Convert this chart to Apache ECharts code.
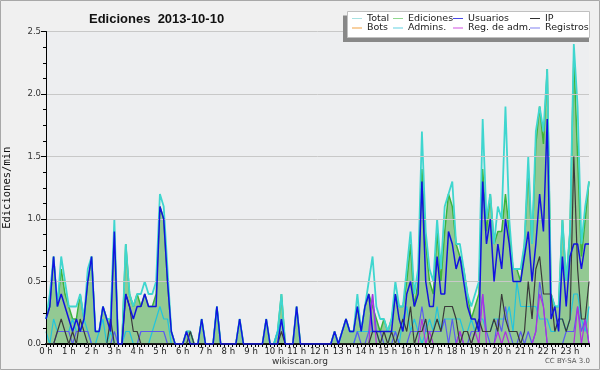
<!DOCTYPE html>
<html><head><meta charset="utf-8">
<script src="https://cdn.jsdelivr.net/npm/echarts@6/dist/echarts.min.js"></script>
<style>html,body{margin:0;padding:0;background:#f0f0f0}#c{width:600px;height:370px}</style>
</head><body><div id="c"></div>
<script>
const hourLabels = ['0 h','1 h','2 h','3 h','4 h','5 h','6 h','7 h','8 h','9 h','10 h','11 h','12 h','13 h','14 h','15 h','16 h','17 h','18 h','19 h','20 h','21 h','22 h','23 h'];
const yLabels = ['0.0','0.5','1.0','1.5','2.0','2.5'];
// one value per 10 minutes (edits per minute)
const total = [
0.2,0.4,0.7,0.3,0.7,0.5, 0.3,0.3,0.3,0.4,0.2,0.6, 0.7,0.1,0.1,0.3,0.2,0.2, 1.0,0,0,0.8,0.4,0.3,
0.4,0.4,0.5,0.4,0.4,0.5, 1.2,1.1,0.6,0.1,0,0, 0,0.1,0.1,0,0,0.2, 0,0,0,0.3,0,0,
0,0,0,0.2,0,0, 0,0,0,0,0.2,0, 0,0.1,0.4,0,0,0, 0.3,0,0,0,0,0,
0,0,0,0,0.1,0, 0.1,0.2,0.1,0.1,0.4,0.1, 0.3,0.5,0.7,0.3,0.2,0.2, 0.1,0.2,0.5,0.3,0.3,0.6,
0.9,0.4,0.6,1.7,0.9,0.6, 0.5,1.0,0.6,1.1,1.2,1.3, 0.8,0.8,0.6,0.4,0.3,0.4, 0.5,1.8,1.0,1.2,0.8,1.1,
1.0,1.9,1.0,0.6,0.6,0.6, 0.8,1.5,0.8,1.7,1.9,1.7, 2.2,0.4,0.3,0.3,1.0,0.5, 0.9,2.4,1.9,0.8,1.1,1.3];
const ediciones = [
0.2,0.3,0.7,0.3,0.6,0.4, 0.3,0.2,0.2,0.4,0.2,0.5, 0.7,0.1,0.1,0.3,0.2,0.2, 0.9,0,0,0.8,0.4,0.3,
0.4,0.3,0.4,0.3,0.3,0.4, 1.1,1.0,0.5,0.1,0,0, 0,0.1,0.1,0,0,0.2, 0,0,0,0.3,0,0,
0,0,0,0.2,0,0, 0,0,0,0,0.2,0, 0,0.1,0.4,0,0,0, 0.3,0,0,0,0,0,
0,0,0,0,0.1,0, 0.1,0.2,0.1,0.1,0.3,0.1, 0.3,0.4,0.3,0.2,0.1,0.2, 0.1,0.2,0.4,0.3,0.3,0.5,
0.8,0.3,0.5,1.4,0.8,0.5, 0.4,0.9,0.5,0.9,1.2,1.1, 0.8,0.7,0.6,0.4,0.2,0.3, 0.4,1.4,0.9,1.2,0.8,0.9,
0.9,1.2,0.9,0.6,0.6,0.5, 0.8,1.4,0.8,1.6,1.9,1.6, 2.2,0.4,0.3,0.3,1.0,0.5, 0.9,2.3,1.5,0.7,1.0,1.3];
const usuarios = [
0.2,0.3,0.7,0.3,0.4,0.3, 0.2,0.1,0.2,0.1,0.2,0.5, 0.7,0.1,0.1,0.3,0.2,0.1, 0.9,0,0,0.4,0.3,0.2,
0.3,0.3,0.4,0.3,0.3,0.3, 1.1,1.0,0.5,0.1,0,0, 0,0.1,0,0,0,0.2, 0,0,0,0.3,0,0,
0,0,0,0.2,0,0, 0,0,0,0,0.2,0, 0,0,0.2,0,0,0, 0.3,0,0,0,0,0,
0,0,0,0,0.1,0, 0.1,0.2,0.1,0.1,0.3,0.1, 0.3,0.4,0.1,0.1,0.1,0.1, 0.1,0.1,0.4,0.2,0.1,0.4,
0.5,0.3,0.4,1.3,0.5,0.3, 0.3,0.7,0.4,0.4,0.9,0.8, 0.6,0.7,0.5,0.3,0.2,0.2, 0.1,1.3,0.8,1.0,0.5,0.8,
0.6,1.0,0.8,0.5,0.5,0.5, 0.7,0.9,0.5,0.8,1.2,0.9, 1.8,0.2,0.3,0.1,0.7,0.3, 0.7,0.8,0.8,0.6,0.8,0.8];
const ip = [
0,0,0,0.1,0.2,0.1, 0,0.1,0,0.2,0.1,0, 0,0,0,0,0,0.2, 0,0,0,0.4,0.3,0.1,
0.1,0,0,0,0,0, 0,0,0,0,0,0, 0,0,0.1,0,0,0, 0,0,0,0,0,0,
0,0,0,0,0,0, 0,0,0,0,0,0, 0,0,0.1,0,0,0, 0,0,0,0,0,0,
0,0,0,0,0,0, 0,0,0,0,0,0, 0,0,0.1,0.1,0,0.1, 0,0.1,0,0.1,0.2,0.1,
0.3,0,0.1,0.1,0.2,0, 0.1,0.2,0.1,0.3,0.3,0.3, 0.2,0,0.1,0.1,0,0.1, 0.2,0.1,0.1,0.1,0.2,0.1,
0.4,0.2,0.1,0.1,0.1,0, 0.1,0.5,0.2,0.6,0.7,0.4, 0.4,0.4,0.1,0.2,0.2,0.1, 0.2,1.5,0.6,0.2,0.2,0.5];
const bots = new Array(144).fill(0);
const admins = [
0.1,0,0.2,0.1,0.1,0.1, 0.1,0.2,0.1,0.1,0.2,0.1, 0,0,0.1,0.2,0,0.1, 0,0,0,0.1,0.1,0,
0,0,0,0,0.1,0.2, 0.3,0.2,0.2,0,0,0, 0,0,0,0,0,0, 0,0,0,0.3,0,0,
0,0,0,0,0,0, 0,0,0,0,0,0, 0,0.1,0.2,0,0,0, 0,0,0,0,0,0,
0,0,0,0,0,0, 0,0,0,0,0.1,0.1, 0.1,0.1,0.1,0.1,0,0, 0,0.1,0.1,0,0.2,0.3,
0.1,0.2,0.1,0,0.1,0.2, 0.1,0.3,0.1,0.2,0.2,0.2, 0.2,0.2,0.1,0.1,0.2,0.1, 0.2,0.2,0.1,0.1,0.2,0.2,
0.2,0.2,0.3,0.1,0.5,0.3, 0.3,0.3,0.3,0.3,0.2,0.2, 0.2,0.1,0.1,0.2,0.2,0.1, 0.2,0.4,0.4,0.2,0.1,0.3];
const regAdm = [
0,0,0,0,0,0, 0,0,0,0,0,0, 0,0,0,0,0,0, 0,0,0,0,0,0,
0,0,0,0,0,0, 0,0,0,0,0,0, 0,0,0,0,0,0, 0,0,0,0,0,0,
0,0,0,0,0,0, 0,0,0,0,0,0, 0,0,0,0,0,0, 0,0,0,0,0,0,
0,0,0,0,0,0, 0,0,0,0,0,0, 0,0,0.4,0,0,0, 0,0,0,0,0,0,
0,0,0,0.2,0,0.1, 0,0,0,0,0,0, 0,0.1,0,0,0,0.1, 0,0.4,0,0,0,0.1,
0,0.1,0,0,0,0, 0,0,0,0.1,0.4,0.3, 0,0,0,0,0,0, 0,0,0.3,0,0.2,0];
const registros = [
0,0,0,0.1,0.1,0.1, 0.1,0,0.1,0.1,0.1,0.1, 0,0,0,0,0,0, 0.1,0,0,0,0,0,
0,0.1,0.1,0.1,0.1,0.1, 0.1,0.1,0,0,0,0, 0,0,0,0,0,0, 0,0,0,0,0,0,
0,0,0,0,0,0, 0,0,0,0,0,0, 0,0,0,0,0,0, 0,0,0,0,0,0,
0,0,0,0,0,0, 0,0,0,0,0.1,0, 0,0.1,0.4,0.1,0.1,0, 0,0,0.1,0,0,0,
0.1,0.1,0.1,0.3,0.1,0.1, 0.1,0.1,0.1,0.2,0,0.2, 0,0.1,0,0,0.1,0.1, 0.1,0.4,0.1,0,0,0.2,
0.1,0.3,0.1,0,0,0.1, 0,0.1,0,0.1,0.5,0.3, 0,0,0,0,0,0.1, 0.1,0.1,0.3,0.1,0.2,0];

const pts = arr => arr.map((v, i) => [i, v]);
const chart = echarts.init(document.getElementById('c'));

const legendDefs = [
  ['Total', '#a8e2e2', 352, 13.5], ['Ediciones', '#90d890', 393, 13.5], ['Usuarios', '#4848e8', 453, 13.5], ['IP', '#303030', 530, 13.5],
  ['Bots', '#f0a040', 352, 23], ['Admins.', '#60d0e0', 393, 23], ['Reg. de adm.', '#d050e0', 453, 23], ['Registros', '#8080f0', 530, 23]
];
const legends = legendDefs.map(d => ({
  left: d[2], top: d[3], padding: 0, selectedMode: false, itemWidth: 10, itemHeight: 1, itemGap: 0,
  textStyle: { fontFamily: 'DejaVu Sans', fontSize: 9.5, color: '#222', padding: [0,0,0,0] },
  data: [{ name: d[0], icon: 'rect', itemStyle: { color: d[1] } }], z: 20
}));

function line(name, data, color, width, z) {
  return { name, type: 'line', data: pts(data), symbol: 'none', z,
    lineStyle: { color, width }, itemStyle: { color }, emphasis: { disabled: true }, animation: false };
}
const edSeries = line('Ediciones', ediciones, '#3cb43c', 1.5, 2);
edSeries.areaStyle = { color: '#93c993', opacity: 1 };

chart.setOption({
  animation: false,
  backgroundColor: '#f0f0f0',
  title: { text: 'Ediciones  2013-10-10', left: 84, top: 8,
    textStyle: { fontFamily: 'Liberation Sans', fontWeight: 'bold', fontSize: 13, color: '#111' } },
  legend: legends,
  grid: { left: 46, right: 11, top: 31.5, bottom: 26, outerBoundsMode: 'none', containLabel: false,
    show: true, backgroundColor: '#edeef0', borderWidth: 0 },
  xAxis: { type: 'value', min: 0, max: 143, interval: 6, z: 5,
    axisLine: { show: true, lineStyle: { color: '#000', width: 2 } },
    axisTick: { show: true, length: 3, lineStyle: { color: '#000' } },
    minorTick: { show: true, splitNumber: 6, length: 3, lineStyle: { color: '#000' } },
    splitLine: { show: false },
    axisLabel: { margin: 3, fontFamily: 'DejaVu Sans', fontSize: 8.5, color: '#222',
      formatter: v => hourLabels[v / 6] || '' } },
  yAxis: { type: 'value', min: 0, max: 2.5, interval: 0.5, z: 5,
    name: 'Ediciones/min', nameLocation: 'middle', nameRotate: 90, nameGap: 33,
    nameTextStyle: { fontFamily: 'DejaVu Sans Mono', fontSize: 10.5, color: '#111' },
    axisLine: { show: true, lineStyle: { color: '#000', width: 1 } },
    axisTick: { show: true, length: 5, lineStyle: { color: '#000' } },
    minorTick: { show: true, splitNumber: 4, length: 3, lineStyle: { color: '#000' } },
    splitLine: { show: true, lineStyle: { color: '#c8c8c8', width: 1 } },
    axisLabel: { margin: 5, fontFamily: 'DejaVu Sans', fontSize: 8.5, color: '#333',
      formatter: v => yLabels[Math.round(v / 0.5)] } },
  graphic: [
    { type: 'rect', shape: { x: 0.5, y: 0.5, width: 599, height: 369 }, style: { fill: 'none', stroke: '#a8a8a8', lineWidth: 1 }, z: 100 },
    { type: 'rect', shape: { x: 343, y: 15.5, width: 246, height: 26.5 }, style: { fill: '#888' }, z: 15 },
    { type: 'rect', shape: { x: 347.5, y: 11.5, width: 242, height: 26 }, style: { fill: '#fff', stroke: '#c0c0c0', lineWidth: 1 }, z: 16 },
    { type: 'text', left: 'center', top: 357, style: { text: 'wikiscan.org', fontFamily: 'DejaVu Sans', fontSize: 9, fill: '#333' } },
    { type: 'text', right: 10, top: 358, style: { text: 'CC BY-SA 3.0', fontFamily: 'DejaVu Sans', fontSize: 7, fill: '#555' } }
  ],
  series: [
    edSeries,
    line('Total', total, '#3fd6cf', 1.8, 3),
    line('Bots', bots, '#f0a040', 1, 3),
    line('Admins.', admins, '#22c4dd', 1.2, 4),
    line('Registros', registros, '#5a5af0', 1.2, 4),
    line('Reg. de adm.', regAdm, '#b030e0', 1.2, 4),
    line('IP', ip, '#3a3a3a', 1.2, 5),
    line('Usuarios', usuarios, '#1212e0', 1.5, 6)
  ]
});
</script></body></html>
